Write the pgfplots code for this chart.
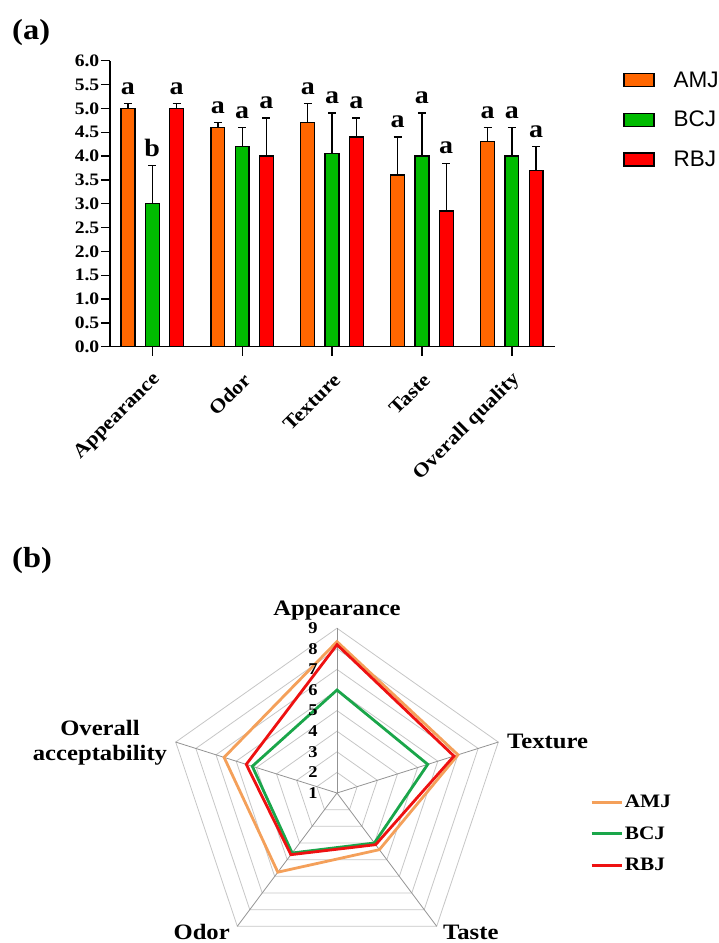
\documentclass[border=0pt]{standalone}
\usepackage{fontspec}
\setmainfont{Liberation Serif}[FakeStretch=1.12]
\newfontfamily\arialfont{Liberation Sans}
\usepackage{pgfplots}
\usepackage{pgfplotstable}
\pgfplotsset{compat=1.18}
\definecolor{cAMJ}{HTML}{FF6600}
\definecolor{cBCJ}{HTML}{00BB00}
\definecolor{cRBJ}{HTML}{FF0000}
\definecolor{rAMJ}{HTML}{F4A05A}
\definecolor{rBCJ}{HTML}{1AA64A}
\definecolor{rRBJ}{HTML}{EE1111}

\pgfplotstableread{
x AMJ AMJe AMJl BCJ BCJe BCJl RBJ RBJe RBJl
0 5.0 0.1 a 3.0 0.8 b 5.0 0.1 a
1 4.6 0.1 a 4.2 0.4 a 4.0 0.8 a
2 4.7 0.4 a 4.05 0.85 a 4.4 0.4 a
3 3.6 0.8 a 4.0 0.9 a 2.85 1.0 a
4 4.3 0.3 a 4.0 0.6 a 3.7 0.5 a
}\bardata

\pgfplotstableread{
ang AMJ BCJ RBJ
90 8.35 6.0 8.2
18 7.0 5.5 6.8
-54 4.4 4.0 4.1
-126 5.75 4.6 4.7
162 6.6 5.2 5.5
90 8.35 6.0 8.2
18 7.0 5.5 6.8
}\radardata

\pgfplotsset{
  barplot/.style={draw=black, line width=1.3pt,
    legend image code/.code={\draw[##1, line width=1.3pt] (0pt,-6.5pt) rectangle (30pt,6.5pt);},
    error bars/y dir=plus, error bars/y explicit,
    error bars/error bar style={line width=1.3pt, black},
    error bars/error mark options={rotate=90, mark size=4pt, line width=1.3pt, black}},
  letters/.style={ybar, draw=none, fill=none, forget plot, nodes near coords,
    point meta=explicit symbolic,
    every node near coord/.append style={anchor=south, inner sep=0pt, yshift=9pt,
      font=\fontsize{25}{25}\selectfont\bfseries, black}},
}

\begin{document}
\begin{tikzpicture}
\path[use as bounding box] (0pt,0pt) rectangle (719pt,-943pt);
\node[anchor=base west, inner sep=0pt, font=\fontsize{29}{29}\selectfont\bfseries] at (12pt,-39.6pt) {(a)};
\node[anchor=base west, inner sep=0pt, font=\fontsize{29}{29}\selectfont\bfseries] at (12pt,-567pt) {(b)};

\begin{axis}[
  at={(110pt,-346.7pt)}, anchor=south west,
  scale only axis, width=445pt, height=286pt,
  xmin=-0.47, xmax=4.48, ymin=0, ymax=6,
  axis x line=bottom, axis y line=left,
  axis line style={line width=1.3pt, -},
  tick align=outside, major tick length=9pt,
  tick style={line width=1.3pt, black},
  ytick={0,0.5,1,1.5,2,2.5,3,3.5,4,4.5,5,5.5,6},
  yticklabel style={font=\fontsize{17.5}{17.5}\selectfont\bfseries, inner sep=1.5pt},
  y tick label style={/pgf/number format/.cd, fixed, fixed zerofill, precision=1, assume math mode=true},
  xtick={0,1,2,3,4},
  xticklabels={Appearance,Odor,Texture,Taste,Overall quality},
  xticklabel style={xshift=5pt, yshift=-21pt, rotate=45, anchor=east, inner sep=0pt,
    font=\fontsize{19.5}{19.5}\selectfont\bfseries},
  ybar, bar width=0.155,
  clip=false,
  legend style={at={(1.153,0.969)}, anchor=north west, draw=none, fill=none,
    inner sep=0pt, font=\arialfont\fontsize{22.5}{24}\selectfont, row sep=18.5pt,
    /tikz/every odd column/.append style={column sep=17pt}},
  legend cell align=left,
]
\addplot[barplot, fill=cAMJ, bar shift=-0.27] table[x=x, y=AMJ, y error=AMJe]{\bardata};
\addlegendentry{AMJ}
\addplot[barplot, fill=cBCJ, bar shift=0] table[x=x, y=BCJ, y error=BCJe]{\bardata};
\addlegendentry{BCJ}
\addplot[barplot, fill=cRBJ, bar shift=0.27] table[x=x, y=RBJ, y error=RBJe]{\bardata};
\addlegendentry{RBJ}
\addplot[letters, bar shift=-0.27] table[x=x, y expr=\thisrow{AMJ}+\thisrow{AMJe}, meta=AMJl]{\bardata};
\addplot[letters, bar shift=0] table[x=x, y expr=\thisrow{BCJ}+\thisrow{BCJe}, meta=BCJl]{\bardata};
\addplot[letters, bar shift=0.27] table[x=x, y expr=\thisrow{RBJ}+\thisrow{RBJe}, meta=RBJl]{\bardata};
\end{axis}

\begin{axis}[
  at={(337pt,-793pt)}, anchor=center,
  x=21.2pt, y=20.6pt,
  xmin=-8.6, xmax=8.6, ymin=-8.6, ymax=8.6,
  hide axis, clip=false,
  legend image code/.code={\draw[#1, line width=2.6pt] (0pt,0pt) -- (30pt,0pt);},
  legend style={at={(1.194,0.5)}, anchor=north west, draw=none, fill=none,
    inner sep=0pt, font=\fontsize{19}{19}\selectfont\bfseries, row sep=13.5pt,
    nodes={inner sep=2pt}},
  legend cell align=left,
]
\pgfplotsinvokeforeach{1,2,3,4,5,6,7,8}{
  \addplot[gray!45, line width=0.8pt, forget plot] table[x expr={#1*cos(\thisrow{ang})}, y expr={#1*sin(\thisrow{ang})}]{\radardata};
}
\pgfplotsinvokeforeach{90,18,-54,-126,162}{
  \addplot[gray!85, line width=0.8pt, forget plot] table[row sep=\\, x expr={\thisrow{r}*cos(#1)}, y expr={\thisrow{r}*sin(#1)}]{r\\0\\8\\};
}
\addplot[rAMJ, line width=2.8pt, line join=miter] table[x expr={(\thisrow{AMJ}-1)*cos(\thisrow{ang})}, y expr={(\thisrow{AMJ}-1)*sin(\thisrow{ang})}]{\radardata};
\addlegendentry{AMJ}
\addplot[rBCJ, line width=2.8pt, line join=miter] table[x expr={(\thisrow{BCJ}-1)*cos(\thisrow{ang})}, y expr={(\thisrow{BCJ}-1)*sin(\thisrow{ang})}]{\radardata};
\addlegendentry{BCJ}
\addplot[rRBJ, line width=2.8pt, line join=miter] table[x expr={(\thisrow{RBJ}-1)*cos(\thisrow{ang})}, y expr={(\thisrow{RBJ}-1)*sin(\thisrow{ang})}]{\radardata};
\addlegendentry{RBJ}

\node[font=\fontsize{16.5}{16.5}\selectfont\bfseries] at (axis cs:-1.13,0) {1};
\node[font=\fontsize{16.5}{16.5}\selectfont\bfseries] at (axis cs:-1.13,1) {2};
\node[font=\fontsize{16.5}{16.5}\selectfont\bfseries] at (axis cs:-1.13,2) {3};
\node[font=\fontsize{16.5}{16.5}\selectfont\bfseries] at (axis cs:-1.13,3) {4};
\node[font=\fontsize{16.5}{16.5}\selectfont\bfseries] at (axis cs:-1.13,4) {5};
\node[font=\fontsize{16.5}{16.5}\selectfont\bfseries] at (axis cs:-1.13,5) {6};
\node[font=\fontsize{16.5}{16.5}\selectfont\bfseries] at (axis cs:-1.13,6) {7};
\node[font=\fontsize{16.5}{16.5}\selectfont\bfseries] at (axis cs:-1.13,7) {8};
\node[font=\fontsize{16.5}{16.5}\selectfont\bfseries] at (axis cs:-1.13,8) {9};

\node[anchor=base, inner sep=0pt, font=\fontsize{22}{22}\selectfont\bfseries] at (axis cs:0,8.64) {Appearance};
\node[anchor=west, inner sep=0pt, font=\fontsize{22}{22}\selectfont\bfseries] at (axis cs:8.02,2.52) {Texture};
\node[anchor=base west, inner sep=0pt, font=\fontsize{22}{22}\selectfont\bfseries] at (axis cs:5.0,-7.1) {Taste};
\node[anchor=base east, inner sep=0pt, font=\fontsize{22}{22}\selectfont\bfseries] at (axis cs:-5.05,-7.1) {Odor};
\node[anchor=center, align=center, inner sep=0pt, font=\fontsize{22}{25}\selectfont\bfseries] at (axis cs:-11.18,2.43) {Overall\\acceptability};
\end{axis}
\end{tikzpicture}
\end{document}
